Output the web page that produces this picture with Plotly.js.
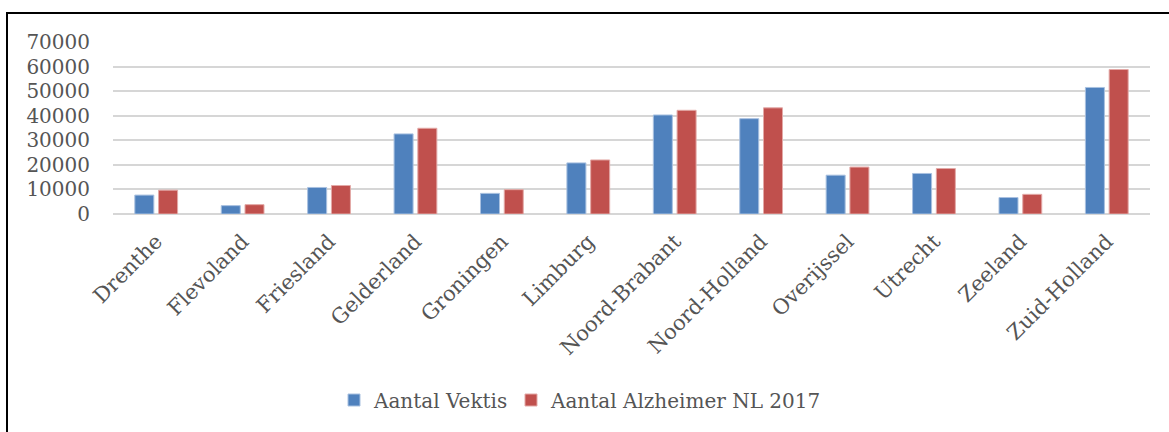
<!DOCTYPE html>
<html>
<head>
<meta charset="utf-8">
<script src="https://cdn.plot.ly/plotly-3.0.1.min.js"></script>
<style>
  html, body { margin: 0; padding: 0; background: #fff; }
  #wrap { position: relative; width: 1169px; height: 432px; }
  #chart { width: 1169px; height: 432px; }
  #frame { position: absolute; left: 6px; top: 12px; width: 1200px; height: 500px;
           border-left: 2px solid #000; border-top: 2px solid #000; pointer-events: none; }
</style>
</head>
<body>
<div id="wrap">
  <div id="chart"></div>
  <div id="frame"></div>
</div>
<script>
const provinces = ["Drenthe", "Flevoland", "Friesland", "Gelderland", "Groningen", "Limburg",
  "Noord-Brabant", "Noord-Holland", "Overijssel", "Utrecht", "Zeeland", "Zuid-Holland"];
const vektis = [7700, 3400, 10800, 32600, 8400, 20800, 40300, 38800, 15800, 16500, 6700, 51500];
const alzheimerNL2017 = [9700, 3800, 11600, 34900, 9900, 22000, 42200, 43200, 19100, 18500, 8000, 58800];
const seriesNames = ["Aantal Vektis", "Aantal Alzheimer NL 2017"];
const yTicks = [0, 10000, 20000, 30000, 40000, 50000, 60000, 70000];

const font = "DejaVu Serif, Liberation Serif, serif";
const textColor = "#555555";

const data = [
  { type: "bar", name: seriesNames[0], x: provinces, y: vektis, legend: "legend",
    marker: { color: "#4F81BD", line: { color: "#a9c1e0", width: 1 } } },
  { type: "bar", name: seriesNames[1], x: provinces, y: alzheimerNL2017, legend: "legend2",
    marker: { color: "#C0504D", line: { color: "#e3a9a7", width: 1 } } }
];

const legendBase = {
  orientation: "h", xref: "container", yref: "container", xanchor: "left",
  y: 32 / 432, yanchor: "middle", bgcolor: "rgba(0,0,0,0)",
  font: { family: font, size: 20, color: textColor }
};

const layout = {
  width: 1169, height: 432,
  margin: { l: 113, r: 19, t: 42, b: 218 },
  paper_bgcolor: "#fff", plot_bgcolor: "#fff",
  barmode: "group", bargap: 0.45, bargroupgap: 0.2,
  font: { family: font, color: textColor, size: 20 },
  xaxis: {
    type: "category", tickangle: -45, showgrid: false, showline: false,
    zeroline: false, ticks: "", ticklabelstandoff: 10,
    tickfont: { family: font, size: 21, color: textColor }
  },
  yaxis: {
    range: [0, 70000], tickvals: yTicks, ticktext: yTicks.map(String),
    showgrid: true, gridcolor: "#d6d6d6", gridwidth: 2,
    zeroline: true, zerolinecolor: "#d6d6d6", zerolinewidth: 2,
    showline: false, ticks: "", ticklabelstandoff: 22,
    tickfont: { family: font, size: 20, color: textColor }
  },
  legend: Object.assign({}, legendBase, { x: 334 / 1169 }),
  legend2: Object.assign({}, legendBase, { x: 511 / 1169 }),
  showlegend: true
};

Plotly.newPlot("chart", data, layout, { displayModeBar: false, staticPlot: true });
</script>
</body>
</html>
